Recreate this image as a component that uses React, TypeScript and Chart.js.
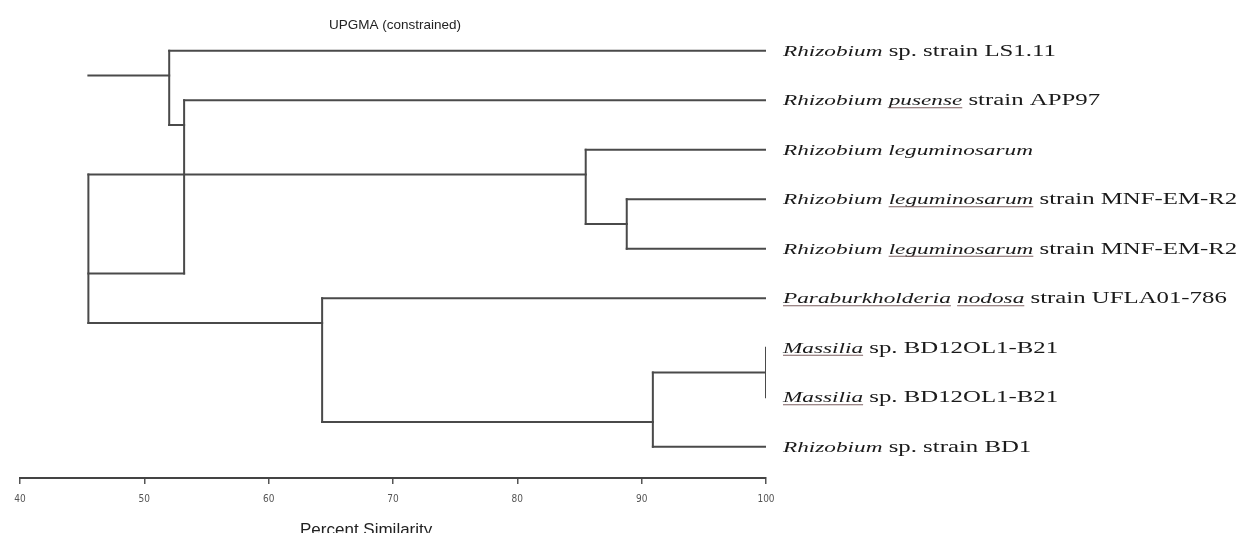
import React, { useEffect, useRef } from 'react';
import { Chart, registerables } from 'chart.js';

Chart.register(...registerables);

// ---------- data ----------
const chartTitle = 'UPGMA (constrained)';
const axisTitle = 'Percent Similarity';
const axisTicks = [40, 50, 60, 70, 80, 90, 100];

// leaf labels: [text, italic, underlined]
type Part = [string, boolean, boolean];
const leafLabels: Part[][] = [
  [['Rhizobium', true, false], [' sp. strain LS1.11', false, false]],
  [['Rhizobium', true, false], [' ', false, false], ['pusense', true, true], [' strain APP97', false, false]],
  [['Rhizobium leguminosarum', true, false]],
  [['Rhizobium', true, false], [' ', false, false], ['leguminosarum', true, true], [' strain MNF-EM-R2', false, false]],
  [['Rhizobium', true, false], [' ', false, false], ['leguminosarum', true, true], [' strain MNF-EM-R2', false, false]],
  [['Paraburkholderia', true, true], [' ', false, false], ['nodosa', true, true], [' strain UFLA01-786', false, false]],
  [['Massilia', true, true], [' sp. BD12OL1-B21', false, false]],
  [['Massilia', true, true], [' sp. BD12OL1-B21', false, false]],
  [['Rhizobium', true, false], [' sp. strain BD1', false, false]],
];
const leafRows = [0, 1, 2, 3, 4, 5, 6, 7, 8];
const leafTip = 100;
const leafBranchFrom = [52, 53.2, 85.5, 88.8, 88.8, 64.3, 100, 100, 90.9];

// internal nodes: vertical joins
const nodeSimilarity = [52, 53.2, 85.5, 88.8, 45.5, 64.3, 90.9, 100];
const nodeSpanTop = [0, 1, 2, 3, 2.5, 5, 6.5, 6];
const nodeSpanBottom = [1.5, 4.5, 3.5, 4, 5.5, 7.5, 8, 7];

// horizontal connectors between nodes
const stemRow = [0.5, 1.5, 4.5, 2.5, 3.5, 5.5, 7.5, 6.5];
const stemFrom = [52, 53.2, 53.2, 85.5, 88.8, 64.3, 90.9, 100];
const stemTo = [45.5, 52, 45.5, 45.5, 85.5, 45.5, 64.3, 90.9];

const LINE = '#4a4a4a';
const SERIF = "'Liberation Serif', 'Times New Roman', serif";
const SANS = "'Liberation Sans', Arial, sans-serif";
const NARROW = "'Liberation Sans Narrow', 'DejaVu Sans Condensed', 'Liberation Sans', sans-serif";

function seg(x1: number, y1: number, x2: number, y2: number) {
  return {
    data: [{ x: x1, y: y1 }, { x: x2, y: y2 }],
    borderColor: LINE,
    borderWidth: 2,
    pointRadius: 0,
    showLine: true,
    fill: false,
    tension: 0,
    borderCapStyle: 'square' as const,
  };
}

const textPlugin = {
  id: 'dendroText',
  afterDraw(chart: any) {
    const { ctx, chartArea, scales } = chart;
    const xs = scales.x;
    const ys = scales.y;
    ctx.save();
    // title
    ctx.fillStyle = '#222';
    ctx.font = `13.5px ${SANS}`;
    ctx.textAlign = 'center';
    ctx.textBaseline = 'alphabetic';
    ctx.fillText(chartTitle, (chartArea.left + chartArea.right) / 2 + 2, chartArea.top + 3);
    // axis title
    ctx.font = `17px ${SANS}`;
    ctx.fillText(axisTitle, chartArea.left + (chartArea.right - chartArea.left) * 0.464, chartArea.bottom + 57);

    // leaf labels
    const sx = 1.55;
    leafLabels.forEach((parts, i) => {
      const y = ys.getPixelForValue(leafRows[i]) + 5;
      const x0 = xs.getPixelForValue(leafTip) + 17;
      ctx.save();
      ctx.translate(x0, y);
      ctx.scale(sx, 1);
      ctx.textAlign = 'left';
      ctx.fillStyle = '#1a1a1a';
      let cx = 0;
      parts.forEach(([txt, italic, under]) => {
        ctx.font = italic ? `italic 15px ${SERIF}` : `16px ${SERIF}`;
        const w = ctx.measureText(txt).width;
        ctx.fillText(txt, cx, 0);
        if (under) {
          ctx.strokeStyle = '#7d5f60';
          ctx.lineWidth = 1;
          ctx.beginPath();
          ctx.moveTo(cx, 2.5);
          ctx.lineTo(cx + w, 2.5);
          ctx.stroke();
        }
        cx += w;
      });
      ctx.restore();
    });
    ctx.restore();
  },
};

export default function App() {
  const ref = useRef<HTMLCanvasElement>(null);
  useEffect(() => {
    if (!ref.current) return;
    const datasets: any[] = [];
    leafRows.forEach((r, i) => {
      if (leafBranchFrom[i] < leafTip) datasets.push(seg(leafBranchFrom[i], r, leafTip, r));
    });
    nodeSimilarity.forEach((s, i) => {
      datasets.push(seg(s, nodeSpanTop[i], s, nodeSpanBottom[i]));
    });
    stemRow.forEach((r, i) => {
      datasets.push(seg(stemTo[i], r, stemFrom[i], r));
    });

    const chart = new Chart(ref.current, {
      type: 'scatter',
      data: { datasets },
      options: {
        animation: false,
        responsive: false,
        layout: { padding: { left: 20, right: 486, top: 26, bottom: 0 } },
        plugins: { legend: { display: false }, tooltip: { enabled: false }, title: { display: false } },
        elements: { line: { borderCapStyle: 'square' } },
        scales: {
          x: {
            type: 'linear',
            min: 40,
            max: 100,
            afterFit: (scale: any) => { scale.height = 55; },
            afterBuildTicks: (scale: any) => { scale.ticks = axisTicks.map((v) => ({ value: v })); },
            grid: { drawOnChartArea: false, drawTicks: true, tickLength: 6, color: '#555', lineWidth: 1.5 },
            border: { display: true, color: '#444', width: 2 },
            ticks: {
              color: '#555',
              font: { family: NARROW, size: 10 },
              padding: 9,
              callback: (v: any) => String(v),
            },
          },
          y: {
            type: 'linear',
            display: false,
            reverse: true,
            min: -0.5,
            max: 8.63,
          },
        },
      },
      plugins: [textPlugin],
    });
    return () => chart.destroy();
  }, []);
  return (
    <div style={{ position: 'absolute', left: 0, top: 0, width: 1252, height: 533, background: '#fff' }}>
      <canvas ref={ref} width={1252} height={533} />
    </div>
  );
}
